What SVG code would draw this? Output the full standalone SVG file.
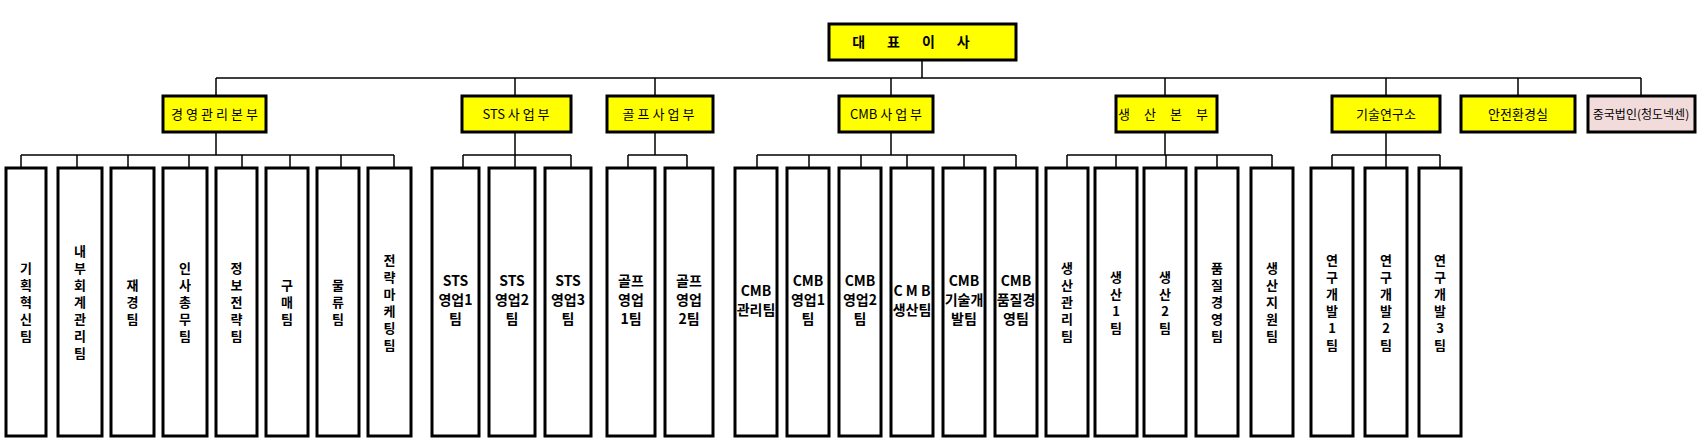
<svg xmlns="http://www.w3.org/2000/svg" width="1708" height="445" viewBox="0 0 1708 445">
<style>
.n{fill:#fff;stroke:#000;stroke-width:3}
.y{fill:#ffff00;stroke:#000;stroke-width:3}
.p{fill:#f2dcdb;stroke:#000;stroke-width:3}
.c{fill:none;stroke:#000;stroke-width:1.5}
text{font-family:"Noto Sans CJK KR","Noto Sans",sans-serif;text-anchor:middle;fill:#000}
.t{font-size:14px;font-weight:bold}
.s{font-size:13px;font-weight:bold}
.h{font-size:13px}
</style>
<rect width="1708" height="445" fill="#fff"/>
<g id="connectors">
<path class="c" d="M922 60V78M216 78H1641M216 78V96M515 78V96M655 78V96M891 78V96M1165 78V96M1386 78V96M1518 78V96M1641 78V96"/>
<path class="c" d="M216 132V155M21 155H394M21 155V168M77 155V168M128 155V168M189 155V168M242 155V168M290 155V168M341 155V168M394 155V168"/>
<path class="c" d="M515 132V155M463 155H571M463 155V168M515 155V168M571 155V168"/>
<path class="c" d="M655 132V155M628 155H687M628 155V168M687 155V168"/>
<path class="c" d="M891 132V155M757 155H1016M757 155V168M809 155V168M861 155V168M907 155V168M964 155V168M1016 155V168"/>
<path class="c" d="M1165 132V155M1067 155H1272M1067 155V168M1116 155V168M1166 155V168M1217 155V168M1272 155V168"/>
<path class="c" d="M1386 132V155M1332 155H1440M1332 155V168M1386 155V168M1440 155V168"/>
</g>
<g id="ceo"><rect class="y" x="829" y="24" width="187" height="36"/><text class="t" x="922" y="47" letter-spacing="22">대표이사</text></g>
<g id="d1"><rect class="y" x="163" y="96" width="103" height="36"/><text class="h" x="216" y="119" letter-spacing="3">경영관리본부</text></g>
<g id="d2"><rect class="y" x="462" y="96" width="109" height="36"/><text class="h" x="516" y="119">STS 사 업 부</text></g>
<g id="d3"><rect class="y" x="607" y="96" width="106" height="36"/><text class="h" x="660" y="119" letter-spacing="3">골프사업부</text></g>
<g id="d4"><rect class="y" x="839" y="96" width="94" height="36"/><text class="h" x="886" y="119">CMB 사 업 부</text></g>
<g id="d5"><rect class="y" x="1116" y="96" width="101" height="36"/><text class="h" x="1170" y="119" letter-spacing="14">생산본부</text></g>
<g id="d6"><rect class="y" x="1332" y="96" width="108" height="36"/><text class="h" x="1386" y="119">기술연구소</text></g>
<g id="d7"><rect class="y" x="1461" y="96" width="114" height="36"/><text class="h" x="1518" y="119">안전환경실</text></g>
<g id="d8"><rect class="p" x="1588" y="96" width="107" height="36"/><text class="h" x="1641" y="119" style="font-size:12px">중국법인(청도넥센)</text></g>

<g id="c1"><rect class="n" x="6" y="168" width="40" height="268"/><text class="s"><tspan x="26" y="273">기</tspan><tspan x="26" dy="17">획</tspan><tspan x="26" dy="17">혁</tspan><tspan x="26" dy="17">신</tspan><tspan x="26" dy="17">팀</tspan></text></g>
<g id="c2"><rect class="n" x="58" y="168" width="44" height="268"/><text class="s"><tspan x="80" y="256">내</tspan><tspan x="80" dy="17">부</tspan><tspan x="80" dy="17">회</tspan><tspan x="80" dy="17">계</tspan><tspan x="80" dy="17">관</tspan><tspan x="80" dy="17">리</tspan><tspan x="80" dy="17">팀</tspan></text></g>
<g id="c3"><rect class="n" x="111" y="168" width="43" height="268"/><text class="s"><tspan x="132.5" y="290">재</tspan><tspan x="132.5" dy="17">경</tspan><tspan x="132.5" dy="17">팀</tspan></text></g>
<g id="c4"><rect class="n" x="163" y="168" width="44" height="268"/><text class="s"><tspan x="185" y="273">인</tspan><tspan x="185" dy="17">사</tspan><tspan x="185" dy="17">총</tspan><tspan x="185" dy="17">무</tspan><tspan x="185" dy="17">팀</tspan></text></g>
<g id="c5"><rect class="n" x="216" y="168" width="41" height="268"/><text class="s"><tspan x="236.5" y="273">정</tspan><tspan x="236.5" dy="17">보</tspan><tspan x="236.5" dy="17">전</tspan><tspan x="236.5" dy="17">략</tspan><tspan x="236.5" dy="17">팀</tspan></text></g>
<g id="c6"><rect class="n" x="266" y="168" width="42" height="268"/><text class="s"><tspan x="287" y="290">구</tspan><tspan x="287" dy="17">매</tspan><tspan x="287" dy="17">팀</tspan></text></g>
<g id="c7"><rect class="n" x="317" y="168" width="42" height="268"/><text class="s"><tspan x="338" y="290">물</tspan><tspan x="338" dy="17">류</tspan><tspan x="338" dy="17">팀</tspan></text></g>
<g id="c8"><rect class="n" x="368" y="168" width="43" height="268"/><text class="s"><tspan x="389.5" y="264.5">전</tspan><tspan x="389.5" dy="17">략</tspan><tspan x="389.5" dy="17">마</tspan><tspan x="389.5" dy="17">케</tspan><tspan x="389.5" dy="17">팅</tspan><tspan x="389.5" dy="17">팀</tspan></text></g>

<g id="c9"><rect class="n" x="432" y="168" width="47" height="268"/><text class="t"><tspan x="455.5" y="286">STS</tspan><tspan x="455.5" dy="19">영업1</tspan><tspan x="455.5" dy="19">팀</tspan></text></g>
<g id="c10"><rect class="n" x="489" y="168" width="46" height="268"/><text class="t"><tspan x="512" y="286">STS</tspan><tspan x="512" dy="19">영업2</tspan><tspan x="512" dy="19">팀</tspan></text></g>
<g id="c11"><rect class="n" x="545" y="168" width="46" height="268"/><text class="t"><tspan x="568" y="286">STS</tspan><tspan x="568" dy="19">영업3</tspan><tspan x="568" dy="19">팀</tspan></text></g>

<g id="c12"><rect class="n" x="607" y="168" width="48" height="268"/><text class="t"><tspan x="631" y="286">골프</tspan><tspan x="631" dy="19">영업</tspan><tspan x="631" dy="19">1팀</tspan></text></g>
<g id="c13"><rect class="n" x="665" y="168" width="48" height="268"/><text class="t"><tspan x="689" y="286">골프</tspan><tspan x="689" dy="19">영업</tspan><tspan x="689" dy="19">2팀</tspan></text></g>

<g id="c14"><rect class="n" x="735" y="168" width="42" height="268"/><text class="t"><tspan x="756" y="296">CMB</tspan><tspan x="756" dy="19">관리팀</tspan></text></g>
<g id="c15"><rect class="n" x="787" y="168" width="42" height="268"/><text class="t"><tspan x="808" y="286">CMB</tspan><tspan x="808" dy="19">영업1</tspan><tspan x="808" dy="19">팀</tspan></text></g>
<g id="c16"><rect class="n" x="839" y="168" width="42" height="268"/><text class="t"><tspan x="860" y="286">CMB</tspan><tspan x="860" dy="19">영업2</tspan><tspan x="860" dy="19">팀</tspan></text></g>
<g id="c17"><rect class="n" x="891" y="168" width="42" height="268"/><text class="t"><tspan x="912" y="296">C M B</tspan><tspan x="912" dy="19">생산팀</tspan></text></g>
<g id="c18"><rect class="n" x="943" y="168" width="42" height="268"/><text class="t"><tspan x="964" y="286">CMB</tspan><tspan x="964" dy="19">기술개</tspan><tspan x="964" dy="19">발팀</tspan></text></g>
<g id="c19"><rect class="n" x="995" y="168" width="42" height="268"/><text class="t"><tspan x="1016" y="286">CMB</tspan><tspan x="1016" dy="19">품질경</tspan><tspan x="1016" dy="19">영팀</tspan></text></g>

<g id="c20"><rect class="n" x="1046" y="168" width="42" height="268"/><text class="s"><tspan x="1067" y="273">생</tspan><tspan x="1067" dy="17">산</tspan><tspan x="1067" dy="17">관</tspan><tspan x="1067" dy="17">리</tspan><tspan x="1067" dy="17">팀</tspan></text></g>
<g id="c21"><rect class="n" x="1095" y="168" width="42" height="268"/><text class="s"><tspan x="1116" y="281.5">생</tspan><tspan x="1116" dy="17">산</tspan><tspan x="1116" dy="17">1</tspan><tspan x="1116" dy="17">팀</tspan></text></g>
<g id="c22"><rect class="n" x="1144" y="168" width="42" height="268"/><text class="s"><tspan x="1165" y="281.5">생</tspan><tspan x="1165" dy="17">산</tspan><tspan x="1165" dy="17">2</tspan><tspan x="1165" dy="17">팀</tspan></text></g>
<g id="c23"><rect class="n" x="1196" y="168" width="42" height="268"/><text class="s"><tspan x="1217" y="273">품</tspan><tspan x="1217" dy="17">질</tspan><tspan x="1217" dy="17">경</tspan><tspan x="1217" dy="17">영</tspan><tspan x="1217" dy="17">팀</tspan></text></g>
<g id="c24"><rect class="n" x="1251" y="168" width="42" height="268"/><text class="s"><tspan x="1272" y="273">생</tspan><tspan x="1272" dy="17">산</tspan><tspan x="1272" dy="17">지</tspan><tspan x="1272" dy="17">원</tspan><tspan x="1272" dy="17">팀</tspan></text></g>

<g id="c25"><rect class="n" x="1311" y="168" width="42" height="268"/><text class="s"><tspan x="1332" y="264.5">연</tspan><tspan x="1332" dy="17">구</tspan><tspan x="1332" dy="17">개</tspan><tspan x="1332" dy="17">발</tspan><tspan x="1332" dy="17">1</tspan><tspan x="1332" dy="17">팀</tspan></text></g>
<g id="c26"><rect class="n" x="1365" y="168" width="42" height="268"/><text class="s"><tspan x="1386" y="264.5">연</tspan><tspan x="1386" dy="17">구</tspan><tspan x="1386" dy="17">개</tspan><tspan x="1386" dy="17">발</tspan><tspan x="1386" dy="17">2</tspan><tspan x="1386" dy="17">팀</tspan></text></g>
<g id="c27"><rect class="n" x="1419" y="168" width="42" height="268"/><text class="s"><tspan x="1440" y="264.5">연</tspan><tspan x="1440" dy="17">구</tspan><tspan x="1440" dy="17">개</tspan><tspan x="1440" dy="17">발</tspan><tspan x="1440" dy="17">3</tspan><tspan x="1440" dy="17">팀</tspan></text></g>
</svg>
